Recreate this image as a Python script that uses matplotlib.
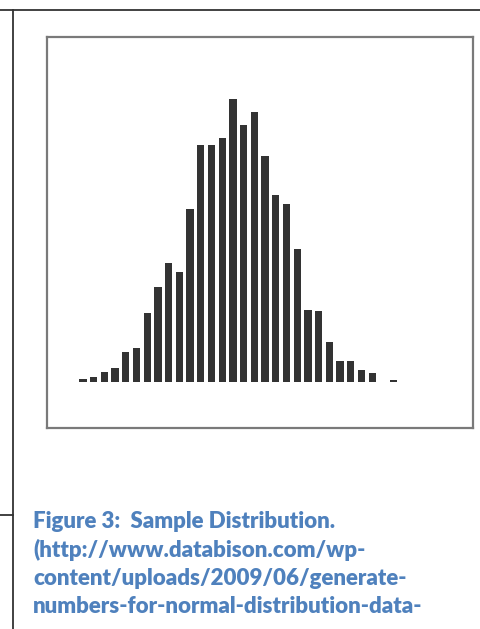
import matplotlib.pyplot as plt
import numpy as np

# Histogram counts per bin (left to right)
counts = [2, 3, 7, 10, 21, 24, 49, 67, 84, 78, 122, 168, 168, 173, 200,
          182, 191, 160, 132, 126, 94, 51, 50, 28, 15, 15, 8, 6, 0, 1]
caption_lines = [
    "Figure 3:  Sample Distribution.",
    "(http://www.databison.com/wp-",
    "content/uploads/2009/06/generate-",
    "numbers-for-normal-distribution-data-",
]

BAR_COLOR = "#333333"
CAPTION_COLOR = "#4F81BD"
LINE_COLOR = "#333333"

W, H = 480, 629
fig = plt.figure(figsize=(W / 100, H / 100), dpi=100)
fig.patch.set_facecolor("white")

# table rules around the figure cell
fig.add_artist(plt.Line2D([0, 1], [1 - 10 / H, 1 - 10 / H], color=LINE_COLOR, lw=1.3))
fig.add_artist(plt.Line2D([13.3 / W, 13.3 / W], [0, 1 - 10 / H], color=LINE_COLOR, lw=1.3))
fig.add_artist(plt.Line2D([0, 13.3 / W], [1 - 515 / H, 1 - 515 / H], color=LINE_COLOR, lw=1.3))

# histogram inside a framed box
ax = fig.add_axes([47 / W, 1 - 428 / H, 426 / W, 391 / H])
x = np.arange(len(counts))
ax.bar(x, counts, width=0.68, color=BAR_COLOR, linewidth=0)
ax.set_xlim(-3.36, 36.41)
ax.set_ylim(-32.8, 244.2)
ax.set_xticks([])
ax.set_yticks([])
for s in ax.spines.values():
    s.set_color("#7a7a7a")
    s.set_linewidth(1.6)

# caption
for i, line in enumerate(caption_lines):
    fig.text(33 / W, 1 - (522 + 28.3 * i) / H, line, color=CAPTION_COLOR,
             fontsize=16, fontweight="heavy", family="Lato",
             ha="left", va="center")

fig.savefig("out.png", dpi=100)
